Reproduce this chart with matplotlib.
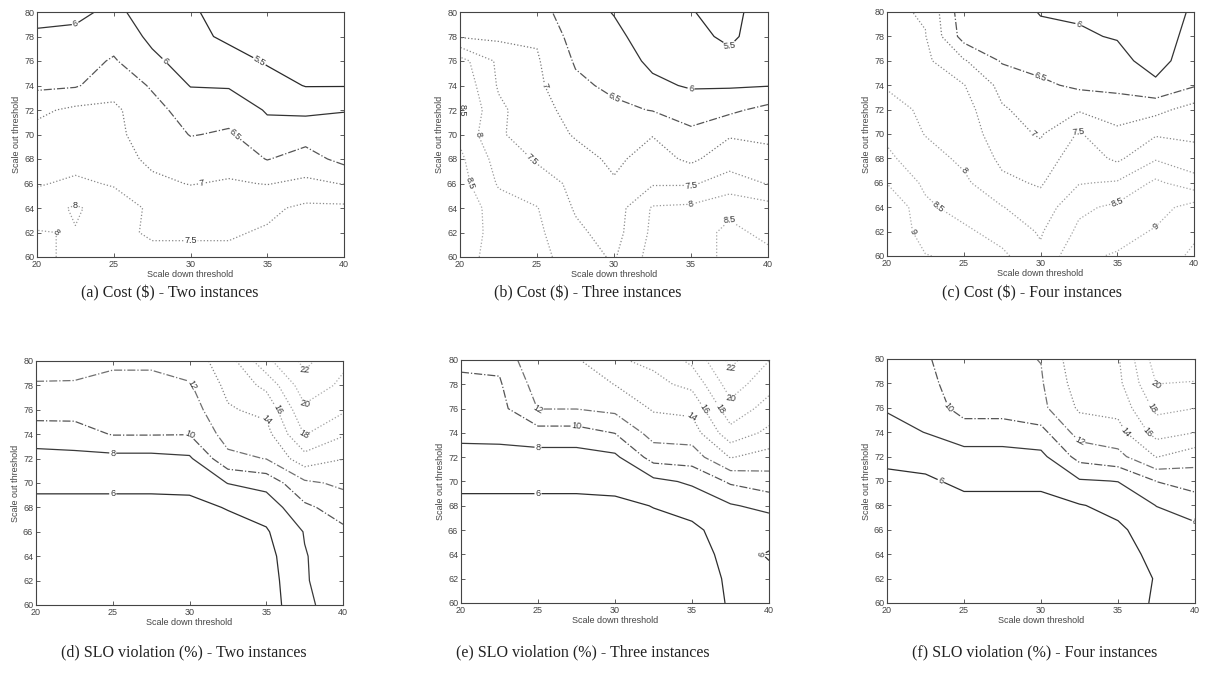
import numpy as np
import matplotlib
matplotlib.use("Agg")
import matplotlib.pyplot as plt

# ---------------- data ----------------
scale_down = [20, 22.5, 25, 27.5, 30, 32.5, 35, 37.5, 40]
scale_out = [60, 62, 64, 66, 68, 70, 72, 74, 76, 78, 80]

# each inner list = one scale-down column, values for scale-out 60 .. 80
cost_two = [
    [8.1, 8.02, 7.8, 7.45, 7.3, 7.15, 6.9, 6.4, 6.2, 6.05, 5.9],
    [7.9, 7.98, 8.05, 7.6, 7.3, 7.2, 7.1, 6.45, 6.3, 6.1, 5.9],
    [7.7, 7.6, 7.8, 7.45, 7.2, 7.1, 7.1, 6.8, 6.55, 6.3, 6.1],
    [7.6, 7.45, 7.4, 7.1, 6.9, 6.8, 6.65, 6.45, 6.1, 5.9, 5.8],
    [7.6, 7.45, 7.3, 6.98, 6.75, 6.48, 6.3, 5.98, 5.8, 5.65, 5.55],
    [7.6, 7.45, 7.3, 7.05, 6.8, 6.55, 6.35, 5.95, 5.7, 5.4, 5.35],
    [7.7, 7.55, 7.4, 6.98, 6.48, 6.2, 5.95, 5.7, 5.45, 5.3, 5.2],
    [7.9, 7.8, 7.6, 7.1, 6.7, 6.3, 5.9, 5.48, 5.3, 5.2, 5.1],
    [7.8, 7.7, 7.6, 6.98, 6.35, 6.2, 5.98, 5.48, 5.3, 5.2, 5.1],
]
cost_three = [
    [8.7, 8.8, 8.9, 8.7, 8.6, 8.4, 8.55, 8.4, 8.2, 6.95, 6.8],
    [8.3, 8.3, 8.2, 7.95, 7.8, 7.55, 7.6, 7.45, 7.4, 6.9, 6.8],
    [8.2, 8.1, 8.02, 7.7, 7.45, 7.3, 7.2, 7.1, 7.05, 6.95, 6.7],
    [7.7, 7.6, 7.45, 7.4, 7.2, 6.95, 6.8, 6.6, 6.45, 6.3, 6.2],
    [7.45, 7.3, 7.25, 7.05, 6.9, 6.75, 6.6, 6.4, 6.25, 6.1, 5.98],
    [8.2, 8.1, 8.05, 7.45, 7.2, 6.98, 6.48, 6.1, 5.9, 5.8, 5.7],
    [8.3, 8.3, 8.1, 7.45, 6.9, 6.6, 6.3, 5.95, 5.8, 5.65, 5.52],
    [8.6, 8.6, 8.4, 7.7, 7.3, 6.95, 6.4, 5.95, 5.65, 5.4, 5.35],
    [8.6, 8.4, 8.2, 7.48, 7.15, 6.9, 6.65, 5.98, 5.9, 5.8, 5.75],
]
cost_four = [
    [9.3, 9.4, 9.52, 8.98, 8.6, 8.4, 8.2, 7.95, 7.8, 7.7, 7.6],
    [9.02, 8.8, 8.6, 8.4, 8.2, 7.98, 7.9, 7.8, 7.6, 7.52, 7.45],
    [8.9, 8.6, 8.3, 8.1, 7.9, 7.8, 7.7, 7.52, 7.05, 6.3, 6.2],
    [8.6, 8.3, 8.02, 7.6, 7.4, 7.2, 7.05, 6.85, 6.45, 6.3, 6.2],
    [8.1, 7.95, 7.7, 7.45, 7.2, 6.95, 6.8, 6.6, 6.3, 6.1, 5.98],
    [8.9, 8.6, 8.4, 7.97, 7.8, 7.55, 6.95, 6.4, 6.2, 6.05, 5.95],
    [9.05, 8.8, 8.6, 8.05, 7.4, 7.1, 6.8, 6.35, 6.15, 5.97, 5.9],
    [9.2, 9.05, 8.8, 8.6, 7.95, 7.45, 6.85, 6.1, 5.8, 5.7, 5.6],
    [9.6, 9.4, 9.2, 8.2, 7.7, 7.4, 7.2, 6.45, 6.3, 6.2, 6.1],
]
slo_two = [
    [4.5, 4.6, 4.8, 5.0, 5.5, 6.4, 7.3, 9.0, 10.8, 11.9, 12.5],
    [4.5, 4.6, 4.8, 5.0, 5.5, 6.4, 7.4, 9.2, 10.7, 11.9, 12.4],
    [4.5, 4.6, 4.8, 5.0, 5.5, 6.4, 7.4, 10.1, 10.7, 11.5, 12.3],
    [4.5, 4.6, 4.8, 5.0, 5.5, 6.4, 7.4, 10.1, 10.7, 11.5, 12.3],
    [4.6, 4.7, 4.9, 5.1, 5.5, 6.5, 7.7, 10.05, 11.0, 11.8, 13.0],
    [4.6, 4.8, 5.0, 5.3, 6.1, 8.05, 11.5, 12.8, 13.8, 14.5, 15.0],
    [4.8, 5.0, 5.3, 5.8, 6.8, 8.7, 12.05, 13.3, 14.5, 16.5, 19.5],
    [7.8, 7.9, 7.9, 8.1, 9.6, 11.6, 15.2, 18.1, 19.6, 21.2, 22.5],
    [8.5, 8.7, 9.0, 9.6, 10.9, 12.4, 14.05, 16.2, 18.3, 19.6, 20.4],
]
slo_three = [
    [4.4, 4.5, 4.7, 5.0, 5.5, 6.5, 7.2, 8.6, 9.2, 9.7, 10.3],
    [4.4, 4.5, 4.7, 5.0, 5.5, 6.5, 7.2, 8.7, 9.4, 9.8, 10.4],
    [4.4, 4.5, 4.7, 5.0, 5.5, 6.5, 7.2, 9.2, 12.05, 12.8, 13.8],
    [4.4, 4.5, 4.7, 5.0, 5.5, 6.5, 7.2, 9.2, 12.05, 12.8, 13.8],
    [4.5, 4.6, 4.8, 5.1, 5.6, 6.6, 7.6, 10.05, 12.5, 14.05, 15.8],
    [4.6, 4.8, 5.1, 5.5, 6.05, 7.5, 10.8, 12.8, 14.2, 15.5, 16.4],
    [4.8, 5.0, 5.3, 5.6, 6.7, 8.3, 11.0, 13.0, 14.5, 16.5, 18.5],
    [6.2, 6.3, 6.5, 6.9, 7.8, 10.3, 14.1, 17.3, 19.3, 21.0, 22.5],
    [6.5, 6.3, 5.9, 6.6, 8.6, 11.1, 13.2, 15.5, 17.2, 18.7, 20.05],
]
slo_four = [
    [4.3, 4.5, 4.8, 5.2, 5.5, 5.8, 6.2, 7.2, 8.2, 9.0, 9.6],
    [4.3, 4.5, 4.8, 5.2, 5.5, 5.8, 6.5, 8.05, 8.8, 9.3, 9.7],
    [4.3, 4.5, 4.8, 5.2, 5.6, 6.3, 7.3, 9.0, 10.8, 11.3, 11.6],
    [4.3, 4.5, 4.8, 5.2, 5.6, 6.3, 7.3, 9.0, 10.8, 11.3, 11.6],
    [4.4, 4.6, 4.9, 5.2, 5.6, 6.3, 7.5, 9.4, 11.5, 11.8, 12.05],
    [4.6, 4.8, 5.1, 5.5, 5.9, 7.8, 10.7, 12.8, 14.3, 15.0, 15.5],
    [4.8, 5.1, 5.4, 5.7, 6.5, 8.05, 11.4, 13.3, 14.6, 15.5, 15.8],
    [6.3, 6.1, 6.4, 6.9, 8.05, 10.05, 14.1, 16.8, 18.5, 20.05, 21.0],
    [6.8, 7.0, 7.3, 7.6, 8.8, 11.0, 12.8, 16.05, 18.05, 19.8, 22.1],
]

cost_levels = [5.5, 6, 6.5, 7, 7.5, 8, 8.5, 9, 9.5]
slo_levels = [6, 8, 10, 12, 14, 16, 18, 20, 22]

captions = [
    "(a) Cost ($) - Two instances",
    "(b) Cost ($) - Three instances",
    "(c) Cost ($) - Four instances",
    "(d) SLO violation (%) - Two instances",
    "(e) SLO violation (%) - Three instances",
    "(f) SLO violation (%) - Four instances",
]
x_ticks = [20, 25, 30, 35, 40]
y_ticks = [60, 62, 64, 66, 68, 70, 72, 74, 76, 78, 80]

# ---------------- styling ----------------
cost_styles = {5.5: ('#2a2a2a', '-'), 6: ('#333333', '-'), 6.5: ('#555555', '-.'),
               7: ('#777777', ':'), 7.5: ('#8a8a8a', ':'), 8: ('#999999', ':'),
               8.5: ('#a5a5a5', ':'), 9: ('#aaaaaa', ':'), 9.5: ('#b0b0b0', ':')}
slo_styles = {6: ('#2e2e2e', '-'), 8: ('#3a3a3a', '-'), 10: ('#555555', '-.'),
              12: ('#707070', '-.'), 14: ('#858585', ':'), 16: ('#959595', ':'),
              18: ('#a0a0a0', ':'), 20: ('#aaaaaa', ':'), 22: ('#b0b0b0', ':')}

plt.rcParams['font.family'] = ['Liberation Sans', 'DejaVu Sans']

W, H = 1208, 679
fig = plt.figure(figsize=(W / 100, H / 100), dpi=100)
fig.patch.set_facecolor('white')

boxes = [(37, 12, 344, 257), (460, 12, 768, 257), (887, 12, 1194, 256),
         (36, 361, 343, 605), (461, 360, 769, 603), (887, 359, 1195, 603)]
cap_pos = [(170, 293), (588, 293), (1032, 293), (184, 652), (583, 652), (1035, 652)]

panels = [(cost_two, cost_levels, cost_styles), (cost_three, cost_levels, cost_styles),
          (cost_four, cost_levels, cost_styles), (slo_two, slo_levels, slo_styles),
          (slo_three, slo_levels, slo_styles), (slo_four, slo_levels, slo_styles)]

X = np.array(scale_down)
Y = np.array(scale_out)

for i, ((data, levels, styles), (l, t, r, b)) in enumerate(zip(panels, boxes)):
    ax = fig.add_axes([l / W, 1 - b / H, (r - l) / W, (b - t) / H])
    Z = np.array(data).T
    zmin, zmax = Z.min(), Z.max()
    lv = [v for v in levels if zmin < v < zmax]
    cols = [styles[v][0] for v in lv]
    lss = [styles[v][1] for v in lv]
    cs = ax.contour(X, Y, Z, levels=lv, colors=cols, linestyles=lss, linewidths=0.9)
    ax.clabel(cs, fmt='%g', fontsize=6.5, inline=True, inline_spacing=1, colors='#333333')
    ax.set_xlim(20, 40)
    ax.set_ylim(60, 80)
    ax.set_xticks(x_ticks)
    ax.set_yticks(y_ticks)
    ax.tick_params(direction='in', top=True, right=True, length=3, width=0.6,
                   labelsize=6.5, colors='#444444', pad=2)
    for sp in ax.spines.values():
        sp.set_color('#444444')
        sp.set_linewidth(0.8)
    ax.set_xlabel('Scale down threshold', fontsize=6.5, color='#444444', labelpad=1)
    ax.set_ylabel('Scale out threshold', fontsize=6.5, color='#444444', labelpad=2)
    cx, cy = cap_pos[i]
    fig.text(cx / W, 1 - cy / H, captions[i], ha='center', va='center',
             fontsize=11.5, family=['Liberation Serif', 'DejaVu Serif'], color='#222222')

fig.savefig('out.png', dpi=100, facecolor='white')
